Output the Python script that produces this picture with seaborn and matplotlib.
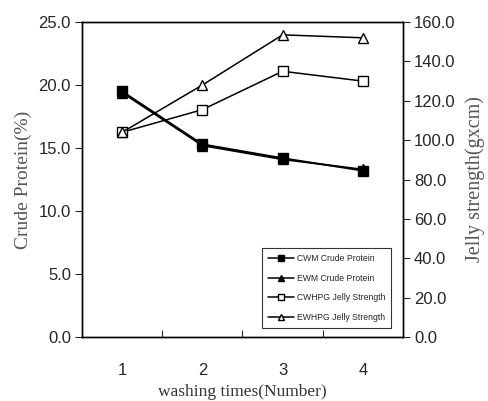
import numpy as np
import pandas as pd
import matplotlib
matplotlib.use("Agg")
import matplotlib.pyplot as plt
import seaborn as sns
from matplotlib.lines import Line2D

# === DATA
washing = [1, 2, 3, 4]
cwm_protein = [19.5, 15.3, 14.2, 13.2]
ewm_protein = [19.4, 15.2, 14.1, 13.3]
cwhpg_jelly = [104.0, 115.5, 135.0, 130.0]
ewhpg_jelly = [104.0, 128.0, 153.5, 152.0]

x_ticklabels = ["1", "2", "3", "4"]

sns.set_style("ticks")
plt.rcParams["font.family"] = ["Liberation Sans", "DejaVu Sans"]

df_prot = pd.DataFrame({
    "washing": washing * 2,
    "value": cwm_protein + ewm_protein,
    "series": ["CWM Crude Protein"] * 4 + ["EWM Crude Protein"] * 4,
})
df_jelly = pd.DataFrame({
    "washing": washing * 2,
    "value": cwhpg_jelly + ewhpg_jelly,
    "series": ["CWHPG Jelly Strength"] * 4 + ["EWHPG Jelly Strength"] * 4,
})

fig = plt.figure(figsize=(4.89, 4.01), dpi=100)
ax = fig.add_axes([0.1677, 0.1596, 0.6564, 0.7854])
ax2 = ax.twinx()

styles = {
    "CWM Crude Protein": dict(marker="s", mfc="black"),
    "EWM Crude Protein": dict(marker="^", mfc="black"),
    "CWHPG Jelly Strength": dict(marker="s", mfc="white"),
    "EWHPG Jelly Strength": dict(marker="^", mfc="white"),
}

for name, grp in df_prot.groupby("series"):
    st = styles[name]
    sns.lineplot(data=grp, x="washing", y="value", ax=ax, color="black", lw=1.3,
                 marker=st["marker"], markerfacecolor=st["mfc"], markeredgecolor="black",
                 markersize=7.5, markeredgewidth=1.0, legend=False)
for name, grp in df_jelly.groupby("series"):
    st = styles[name]
    sns.lineplot(data=grp, x="washing", y="value", ax=ax2, color="black", lw=1.1,
                 marker=st["marker"], markerfacecolor=st["mfc"], markeredgecolor="black",
                 markersize=7.5, markeredgewidth=1.0, legend=False)

ax.set_xlim(0.5, 4.5)
ax.set_ylim(0, 25)
ax2.set_ylim(0, 160)
ax.set_yticks(np.arange(0, 25.1, 5))
ax.set_yticklabels([f"{v:.1f}" for v in np.arange(0, 25.1, 5)])
ax2.set_yticks(np.arange(0, 160.1, 20))
ax2.set_yticklabels([f"{v:.1f}" for v in np.arange(0, 160.1, 20)])

ax.set_xticks(washing)
ax.set_xticklabels(x_ticklabels)
ax.tick_params(axis="x", length=0, pad=19, labelsize=12)
ax.set_xticks([1.5, 2.5, 3.5], minor=True)
ax.tick_params(axis="x", which="minor", direction="in", length=5, width=0.8)
ax.tick_params(axis="y", direction="out", length=5, width=0.8, labelsize=12, pad=3)
ax2.tick_params(axis="y", direction="out", length=5, width=0.8, labelsize=12, pad=3)

for a in (ax, ax2):
    for s in a.spines.values():
        s.set_visible(True)
        s.set_linewidth(1.0)
        s.set_color("black")

serif = ["Liberation Serif", "DejaVu Serif"]
ax.set_xlabel("washing times(Number)", family=serif, fontsize=12.5, color="#333333", labelpad=4)
ax.set_ylabel("Crude Protein(%)", family=serif, fontsize=14, color="#555555", labelpad=5)
ax2.set_ylabel("Jelly strength(gxcm)", family=serif, fontsize=14.5, color="#555555", labelpad=7)

handles = [Line2D([], [], color="black", lw=1.1, marker=styles[n]["marker"],
                  mfc=styles[n]["mfc"], mec="black", markersize=5)
           for n in styles]
leg = ax2.legend(handles, list(styles.keys()), loc="lower right",
                 bbox_to_anchor=(0.964, 0.028), fontsize=6.2, frameon=True,
                 fancybox=False, edgecolor="black", handlelength=3.0,
                 borderpad=0.7, labelspacing=1.25, handletextpad=0.3,
                 borderaxespad=0)
leg.get_frame().set_linewidth(0.8)

fig.savefig("out.png", dpi=100)
